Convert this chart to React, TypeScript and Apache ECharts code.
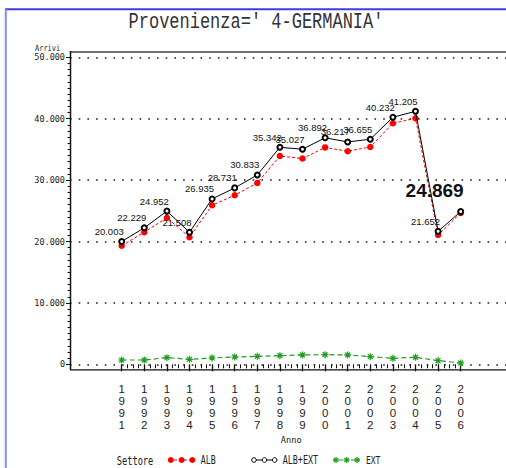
import React, { useEffect, useRef } from "react";
import * as echarts from "echarts";

const years = [1991, 1992, 1993, 1994, 1995, 1996, 1997, 1998, 1999, 2000, 2001, 2002, 2003, 2004, 2005, 2006];
const albExt = [20003, 22229, 24952, 21508, 26935, 28731, 30833, 35342, 35027, 36892, 36217, 36655, 40232, 41205, 21652, 24869];
const alb = [19300, 21530, 23870, 20700, 25900, 27540, 29530, 33930, 33510, 35320, 34700, 35400, 39250, 40070, 21050, 24650];
const ext = [700, 700, 1080, 810, 1030, 1190, 1300, 1410, 1520, 1570, 1520, 1250, 980, 1140, 600, 220];
const yTicks = [0, 10000, 20000, 30000, 40000, 50000];
const title = "Provenienza=' 4-GERMANIA'";
const yName = "Arrivi";
const xName = "Anno";
const legendTitle = "Settore";
const seriesNames = ["ALB", "ALB+EXT", "EXT"];

const RED = "#ff0000";
const BLACK = "#000000";
const GREEN = "#1f9f1f";
const MONO = "'DejaVu Sans Mono', 'Liberation Mono', monospace";
const THIN = "'Liberation Mono', 'DejaVu Sans Mono', monospace";
const SANS = "'Liberation Sans', Arial, sans-serif";

const fmt = (v: number) => Math.round(v).toString().replace(/\B(?=(\d{3})+(?!\d))/g, ".");

function asterisk(cx: number, cy: number, r: number) {
  const d = r * 0.72;
  const segs = [
    [cx, cy - r, cx, cy + r],
    [cx - r, cy, cx + r, cy],
    [cx - d, cy - d, cx + d, cy + d],
    [cx - d, cy + d, cx + d, cy - d],
  ];
  return segs.map((s) => ({
    type: "line",
    shape: { x1: s[0], y1: s[1], x2: s[2], y2: s[3] },
    style: { stroke: GREEN, lineWidth: 1.2 },
    z: 20,
  }));
}

export default function App() {
  const ref = useRef<HTMLDivElement>(null);
  useEffect(() => {
    document.body.style.margin = "0";
    if (!ref.current) return;
    const chart = echarts.init(ref.current, null, { renderer: "svg" });

    const pairs = (arr: number[]) => years.map((y, i) => [y, arr[i]]);
    const albExtData: any[] = years.map((y, i) => {
      if (i === years.length - 1) {
        return {
          value: [y, albExt[i]],
          label: { fontSize: 19, fontWeight: "bold", distance: 8, offset: [3, 0] },
        };
      }
      return [y, albExt[i]];
    });

    const gTop = 57.3;
    const gBottom = 468 - 364.3;

    const legendY = 460;
    const graphic: any[] = [
      // blue page border
      { type: "line", shape: { x1: 5, y1: 9.3, x2: 506, y2: 9.3 }, style: { stroke: "#3d3de0", lineWidth: 2 }, z: 20 },
      { type: "line", shape: { x1: 5.8, y1: 9, x2: 5.8, y2: 468 }, style: { stroke: "#8888ff", lineWidth: 2 }, z: 20 },
      // plot frame
      { type: "line", shape: { x1: 70, y1: 52, x2: 506, y2: 52 }, style: { stroke: "#707070", lineWidth: 2 }, z: 20 },
      { type: "line", shape: { x1: 70.5, y1: 51, x2: 70.5, y2: 370 }, style: { stroke: "#111", lineWidth: 1.5 }, z: 20 },
      { type: "line", shape: { x1: 70, y1: 369.8, x2: 506, y2: 369.8 }, style: { stroke: "#111", lineWidth: 1.3 }, z: 20 },
      // title
      {
        type: "text", x: 256, y: 22.5, scaleY: 1.3, z: 20,
        style: { text: title, font: `17px ${THIN}`, fill: "#333", textAlign: "center", textVerticalAlign: "middle" },
      },
      // y name
      {
        type: "text", x: 35, y: 48.5, scaleY: 1.25, z: 20,
        style: { text: yName, font: `7px ${MONO}`, fill: "#222", textAlign: "left", textVerticalAlign: "middle" },
      },
      // legend
      {
        type: "text", x: 116.7, y: legendY, scaleY: 1.4, z: 20,
        style: { text: legendTitle, font: `8.7px ${MONO}`, fill: "#222", textAlign: "left", textVerticalAlign: "middle" },
      },
      { type: "line", shape: { x1: 169, y1: legendY, x2: 194, y2: legendY }, style: { stroke: RED, lineWidth: 1, lineDash: [3, 2] }, z: 20 },
      { type: "circle", shape: { cx: 170.8, cy: legendY, r: 3 }, style: { fill: RED }, z: 21 },
      { type: "circle", shape: { cx: 181.6, cy: legendY, r: 3 }, style: { fill: RED }, z: 21 },
      { type: "circle", shape: { cx: 192.3, cy: legendY, r: 3 }, style: { fill: RED }, z: 21 },
      {
        type: "text", x: 200.7, y: legendY, scaleY: 1.4, z: 20,
        style: { text: seriesNames[0], font: `8.3px ${MONO}`, fill: "#222", textAlign: "left", textVerticalAlign: "middle" },
      },
      { type: "line", shape: { x1: 252, y1: legendY, x2: 277, y2: legendY }, style: { stroke: BLACK, lineWidth: 1 }, z: 20 },
      { type: "circle", shape: { cx: 254, cy: legendY, r: 2.3 }, style: { fill: "#fff", stroke: BLACK, lineWidth: 1 }, z: 21 },
      { type: "circle", shape: { cx: 264.5, cy: legendY, r: 2.3 }, style: { fill: "#fff", stroke: BLACK, lineWidth: 1 }, z: 21 },
      { type: "circle", shape: { cx: 274.7, cy: legendY, r: 2.3 }, style: { fill: "#fff", stroke: BLACK, lineWidth: 1 }, z: 21 },
      {
        type: "text", x: 282.7, y: legendY, scaleY: 1.4, z: 20,
        style: { text: seriesNames[1], font: `8.4px ${MONO}`, fill: "#222", textAlign: "left", textVerticalAlign: "middle" },
      },
      { type: "line", shape: { x1: 333, y1: legendY, x2: 360, y2: legendY }, style: { stroke: GREEN, lineWidth: 1, lineDash: [4, 2] }, z: 20 },
      ...asterisk(336, legendY, 3),
      ...asterisk(346.6, legendY, 3),
      ...asterisk(357, legendY, 3),
      {
        type: "text", x: 366, y: legendY, scaleY: 1.4, z: 20,
        style: { text: seriesNames[2], font: `8px ${MONO}`, fill: "#222", textAlign: "left", textVerticalAlign: "middle" },
      },
    ];

    chart.setOption({
      animation: false,
      backgroundColor: "#ffffff",
      grid: [
        { left: 70, right: 0, top: gTop, bottom: gBottom },
        { left: 121.7, right: 506 - 460.7, top: gTop, bottom: gBottom },
      ],
      xAxis: [
        { type: "value", gridIndex: 0, min: 0, max: 1, show: false },
        {
          type: "value",
          gridIndex: 1,
          min: years[0],
          max: years[years.length - 1],
          interval: 1,
          offset: 5.5,
          axisLine: { show: false },
          axisTick: { show: true, length: 7, lineStyle: { color: "#111", width: 1.3 } },
          minorTick: { show: true, splitNumber: 4, length: 4, lineStyle: { color: "#111", width: 1 } },
          splitLine: { show: false },
          axisLabel: {
            margin: 13,
            color: "#222",
            fontFamily: SANS,
            fontSize: 11.5,
            lineHeight: 12,
            formatter: (v: number) => String(v).split("").join("\n"),
          },
          name: xName,
          nameLocation: "middle",
          nameGap: 66,
          nameTextStyle: { fontFamily: MONO, fontSize: 8.7, color: "#222" },
        },
      ],
      yAxis: [
        {
          type: "value",
          gridIndex: 0,
          min: yTicks[0],
          max: yTicks[yTicks.length - 1],
          interval: yTicks[1] - yTicks[0],
          axisLine: { show: false },
          axisTick: { show: true, length: 4, lineStyle: { color: "#111", width: 1 } },
          minorTick: { show: true, splitNumber: 10, length: 2.5, lineStyle: { color: "#111", width: 1 } },
          axisLabel: {
            margin: 5,
            color: "#222",
            fontFamily: MONO,
            fontSize: 8.5,
            formatter: (v: number) => fmt(v),
          },
          splitLine: { show: true, lineStyle: { color: "#555", width: 2, type: [1.6, 7.1] } },
        },
        { type: "value", gridIndex: 1, min: yTicks[0], max: yTicks[yTicks.length - 1], show: false },
      ],
      series: [
        {
          name: seriesNames[0],
          type: "line",
          xAxisIndex: 1,
          yAxisIndex: 1,
          data: pairs(alb),
          symbol: "circle",
          symbolSize: 6.5,
          itemStyle: { color: RED },
          lineStyle: { color: RED, width: 1, type: [3, 2] },
          z: 3,
        },
        {
          name: seriesNames[1],
          type: "line",
          xAxisIndex: 1,
          yAxisIndex: 1,
          data: albExtData,
          symbol: "emptyCircle",
          symbolSize: 5,
          showAllSymbol: true,
          itemStyle: { color: BLACK, borderColor: BLACK, borderWidth: 1 },
          lineStyle: { color: BLACK, width: 1 },
          label: {
            show: true,
            position: "top",
            align: "right",
            distance: 1.5,
            offset: [2, 0],
            color: "#111",
            fontFamily: SANS,
            fontSize: 9.5,
            formatter: (p: any) => fmt(Array.isArray(p.value) ? p.value[1] : p.value),
          },
          z: 4,
        },
        {
          name: seriesNames[2],
          type: "line",
          xAxisIndex: 1,
          yAxisIndex: 1,
          data: pairs(ext),
          symbol: "path://M5,0L5,10M0,5L10,5M1.5,1.5L8.5,8.5M1.5,8.5L8.5,1.5",
          symbolSize: 7,
          itemStyle: { color: GREEN, borderColor: GREEN, borderWidth: 1.2 },
          lineStyle: { color: GREEN, width: 1.2, type: [5, 3] },
          z: 3,
        },
      ],
      graphic,
    });
    return () => chart.dispose();
  }, []);
  return <div ref={ref} style={{ width: 506, height: 468 }} />;
}
